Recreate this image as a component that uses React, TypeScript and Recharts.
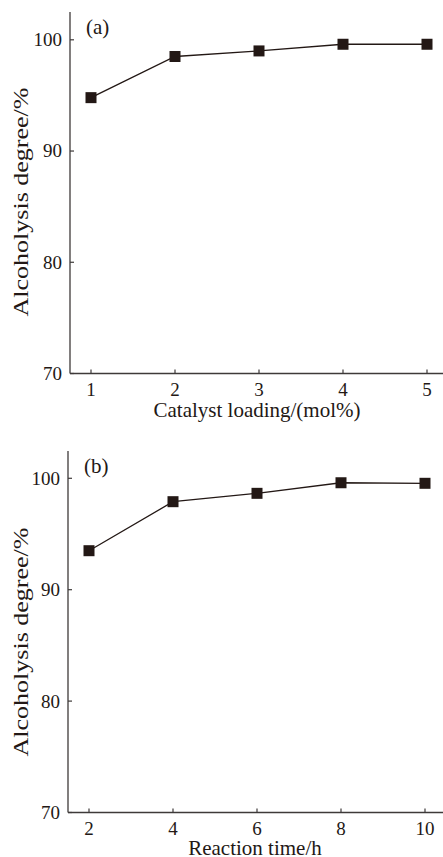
import React from 'react';
import { LineChart, Line, XAxis, YAxis } from 'recharts';

const loadingValues = [1, 2, 3, 4, 5];
const loadingDegree = [94.8, 98.5, 99.0, 99.6, 99.6];
const timeValues = [2, 4, 6, 8, 10];
const timeDegree = [93.5, 97.9, 98.65, 99.6, 99.55];
const yTicks = [70, 80, 90, 100];
const yLabel = 'Alcoholysis degree/%';
const xLabelA = 'Catalyst loading/(mol%)';
const xLabelB = 'Reaction time/h';

const dataA = loadingValues.map((x, i) => ({ x, y: loadingDegree[i] }));
const dataB = timeValues.map((x, i) => ({ x, y: timeDegree[i] }));

const FONT = "'Liberation Serif', 'Times New Roman', serif";
const INK = '#231815';
const AXIS = '#3e3a39';

const textStyle = (size: number) => ({ fontFamily: FONT, fontSize: size, fill: INK });

const YTick = (props: any) => {
  const { x, y, payload } = props;
  const ax = x + 8;
  return (
    <g>
      <line x1={ax} x2={ax + 4} y1={y} y2={y} stroke={AXIS} strokeWidth={1.2} />
      <text x={x} y={y} dy="0.34em" textAnchor="end" style={textStyle(19)}>
        {payload.value}
      </text>
    </g>
  );
};

const XTick = (props: any) => {
  const { x, y, payload } = props;
  const ay = y;
  return (
    <g>
      <line x1={x} x2={x} y1={ay} y2={ay - 4} stroke={AXIS} strokeWidth={1.2} />
      <text x={x} y={ay + 22.5} textAnchor="middle" style={textStyle(19)}>
        {payload.value}
      </text>
    </g>
  );
};

const Square = (props: any) => {
  const { cx, cy, index } = props;
  return <rect key={index} x={cx - 5.5} y={cy - 5.5} width={11} height={11} fill={INK} />;
};

type PanelProps = {
  data: { x: number; y: number }[];
  xTicks: number[];
  xDomain: [number, number];
  yDomain: [number, number];
  left: number;
  top: number;
  plotLeft: number;
  xLabel: string;
  xLabelOffset: number;
  tag: string;
  tagX: number;
  yLabelCenter: number;
};

const PLOT_W = 378;
const PLOT_H = 361.5;
const XAX_H = 60;

const Panel = (p: PanelProps) => {
  const width = p.plotLeft + PLOT_W;
  const height = 12 + PLOT_H + XAX_H;
  return (
    <div style={{ position: 'absolute', left: p.left, top: p.top, width, height }}>
      <LineChart width={width} height={height} data={p.data} margin={{ top: 12, right: 0, left: 0, bottom: 0 }}>
        <XAxis
          xAxisId="top"
          orientation="top"
          dataKey="x"
          type="number"
          domain={p.xDomain}
          height={0}
          tick={false}
          tickLine={false}
          axisLine={{ stroke: AXIS, strokeWidth: 1.3 }}
        />
        <XAxis
          dataKey="x"
          type="number"
          domain={p.xDomain}
          ticks={p.xTicks}
          allowDataOverflow
          height={XAX_H}
          tickSize={0}
          tickMargin={0}
          tick={<XTick />}
          tickLine={false}
          axisLine={{ stroke: AXIS, strokeWidth: 1.3 }}
          label={{
            content: (lp: any) => {
              const vb = lp.viewBox;
              return (
                <text
                  x={vb.x + vb.width / 2 - 2}
                  y={vb.y + p.xLabelOffset}
                  textAnchor="middle"
                  style={textStyle(21)}
                >
                  {p.xLabel}
                </text>
              );
            },
          }}
        />
        <YAxis
          type="number"
          domain={p.yDomain}
          ticks={yTicks}
          allowDataOverflow
          width={p.plotLeft}
          tickSize={0}
          tickMargin={8}
          tick={<YTick />}
          tickLine={false}
          axisLine={{ stroke: AXIS, strokeWidth: 1.3 }}
          label={{
            content: () => (
              <text
                x={28}
                y={p.yLabelCenter}
                transform={`rotate(-90, 28, ${p.yLabelCenter})`}
                textAnchor="middle"
                textLength={229}
                lengthAdjust="spacingAndGlyphs"
                style={textStyle(21)}
              >
                {yLabel}
              </text>
            ),
          }}
        />
        <Line
          xAxisId={0}
          dataKey="y"
          stroke={INK}
          strokeWidth={1.3}
          dot={<Square />}
          activeDot={false}
          isAnimationActive={false}
        />
      </LineChart>
      <div
        style={{
          position: 'absolute',
          left: p.tagX,
          top: 17,
          fontFamily: FONT,
          fontSize: 21,
          lineHeight: '20px',
          color: INK,
          whiteSpace: 'nowrap',
        }}
      >
        {p.tag}
      </div>
    </div>
  );
};

export default function App() {
  return (
    <div
      style={{
        position: 'absolute',
        left: 0,
        top: 0,
        width: 443,
        height: 857,
        overflow: 'hidden',
        background: '#fff',
      }}
    >
      <Panel
        data={dataA}
        xTicks={loadingValues}
        xDomain={[0.75, 5.25]}
        yDomain={[70, 102.5]}
        left={0}
        top={0}
        plotLeft={70}
        xLabel={xLabelA}
        xLabelOffset={43.5}
        tag="(a)"
        tagX={86}
        yLabelCenter={202}
      />
      <Panel
        data={dataB}
        xTicks={timeValues}
        xDomain={[1.5, 10.5]}
        yDomain={[70, 102.45]}
        left={0}
        top={439}
        plotLeft={68}
        xLabel={xLabelB}
        xLabelOffset={42}
        tag="(b)"
        tagX={84}
        yLabelCenter={203}
      />
    </div>
  );
}
